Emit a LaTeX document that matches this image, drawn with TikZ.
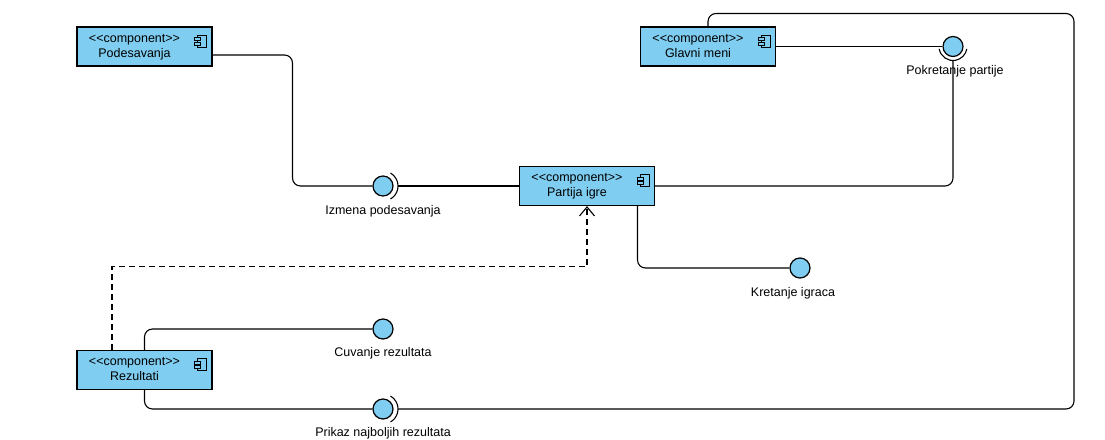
\documentclass[tikz,border=0pt]{standalone}
\usepackage{fontspec}
\setmainfont{Liberation Sans}
\usetikzlibrary{arrows.meta}

\definecolor{compblue}{RGB}{127,205,240}

\newcommand\comptext[1]{\begin{tabular}{@{}c@{}}<{}<component>{}>\\#1\end{tabular}\kern20pt}
\newcommand\compicon[1]{%
  \draw[line width=0.9pt,fill=compblue] ([shift={(-15pt,-9pt)}]#1.north east) rectangle ++(9pt,-12pt);
  \draw[line width=0.9pt,fill=compblue] ([shift={(-18pt,-11.5pt)}]#1.north east) rectangle ++(6pt,-3pt);
  \draw[line width=0.9pt,fill=compblue] ([shift={(-18pt,-16pt)}]#1.north east) rectangle ++(6pt,-3pt);}

\tikzset{
  comp/.style={draw, line width=1.2pt, fill=compblue, minimum width=135pt, minimum height=39pt, inner sep=0pt},
  iface/.style={circle, draw, line width=1.2pt, fill=compblue, minimum size=20pt, inner sep=0pt},
  lbl/.style={inner sep=0pt},
  wire/.style={line width=1.1pt, rounded corners=8pt},
  dep/.style={line width=1.1pt, dashed, dash pattern=on 6pt off 4pt, -{Straight Barb[length=9pt,width=15pt,line width=1.1pt]}},
}

\begin{document}
\begin{tikzpicture}[x=1pt,y=-1pt,font=\fontsize{12.5}{15}\selectfont]
  \useasboundingbox (0,0) rectangle (1105,439);
  % components
  \node[comp] (pod) at (144.5,46.5) {\comptext{Podesavanja}};
  \node[comp] (glavni) at (708,46.5) {\comptext{Glavni meni}};
  \node[comp] (partija) at (587,186) {\comptext{Partija igre}};
  \node[comp] (rez) at (144.5,370) {\comptext{Rezultati}};
  \compicon{pod}
  \compicon{glavni}
  \compicon{partija}
  \compicon{rez}
  % interfaces
  \node[iface] (izmena) at (383,186) {};
  \node[iface] (pokretanje) at (953,46.5) {};
  \node[iface] (kretanje) at (800,268) {};
  \node[iface] (cuvanje) at (383,329) {};
  \node[iface] (prikaz) at (383,409) {};
  \node[lbl] (izmenalbl) at ([yshift=-25pt]izmena.center) {Izmena podesavanja};
  \node[lbl] (pokretanjelbl) at ([shift={(2pt,-25pt)}]pokretanje.center) {Pokretanje partije};
  \node[lbl] (kretanjelbl) at ([shift={(-7pt,-25pt)}]kretanje.center) {Kretanje igraca};
  \node[lbl] (cuvanjelbl) at ([yshift=-24pt]cuvanje.center) {Cuvanje rezultata};
  \node[lbl] (prikazlbl) at ([yshift=-24pt]prikaz.center) {Prikaz najboljih rezultata};
  % sockets
  \draw[line width=1.1pt] ([shift={(-60:15pt)}]izmena.center) arc[start angle=-60,end angle=60,radius=15pt];
  \draw[line width=1.1pt] ([shift={(-60:15pt)}]prikaz.center) arc[start angle=-60,end angle=60,radius=15pt];
  \draw[line width=1.1pt] ([shift={(190:14pt)}]pokretanje.center) arc[start angle=190,end angle=350,radius=14pt];
  % connectors
  \draw[wire] ([yshift=-8.5pt]pod.east) -| (292.5,186) -- (izmena);
  \draw[wire] ([xshift=15pt]izmena.center) -- (partija.west);
  \draw[wire] (glavni.east) -- (pokretanje.west);
  \draw[wire] (partija.east) -| ([yshift=-14pt]pokretanje.center);
  \draw[wire] (glavni.north) |- (1074,13.5) |- ([xshift=15pt]prikaz.center);
  \draw[wire] (rez.south) |- (prikaz);
  \draw[wire] (rez.north) |- (cuvanje);
  \draw[wire] ([xshift=50.5pt]partija.south) |- (kretanje);
  \draw[dep] ([xshift=-32.5pt]rez.north) -- ++(0,-83) -| (partija.south);
\end{tikzpicture}
\end{document}
